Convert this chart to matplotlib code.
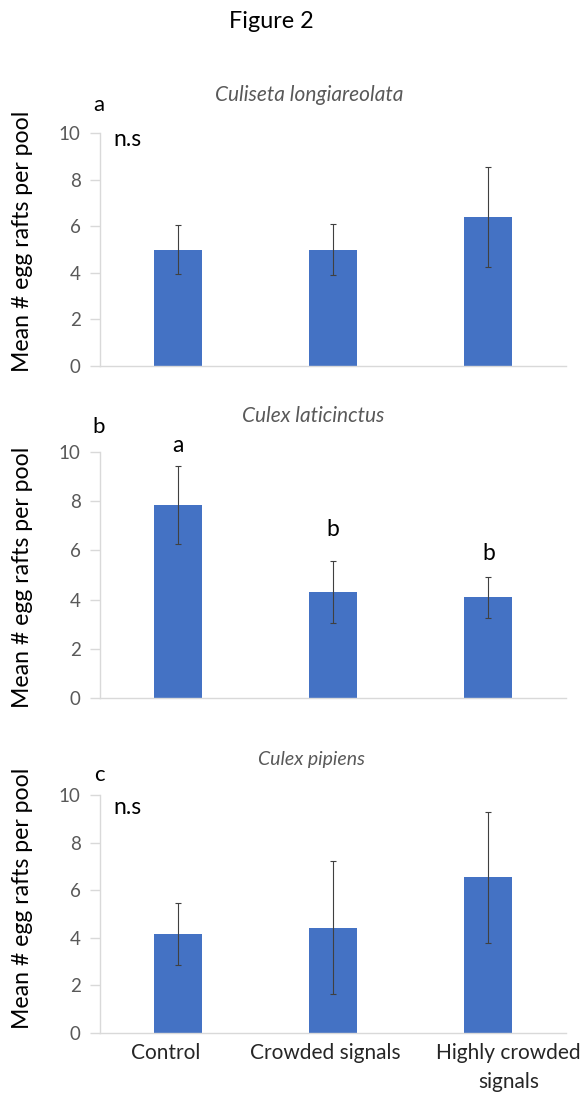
import matplotlib
matplotlib.use("Agg")
import matplotlib.pyplot as plt
import matplotlib.transforms as mtransforms
import numpy as np

plt.rcParams['font.family'] = ['Lato', 'DejaVu Sans']

categories = ["Control", "Crowded signals", "Highly crowded\nsignals"]
species = ["Culiseta longiareolata", "Culex laticinctus", "Culex pipiens"]
panel_labels = ["a", "b", "c"]

means_a = [5.0, 5.0, 6.4]
err_a = [1.07, 1.08, 2.15]
means_b = [7.85, 4.29, 4.1]
err_b = [1.6, 1.26, 0.83]
means_c = [4.16, 4.43, 6.55]
err_c = [1.32, 2.79, 2.75]
sig_letters_b = ["a", "b", "b"]
yticks = [0, 2, 4, 6, 8, 10]

W, H = 586, 1095
fig = plt.figure(figsize=(W / 100, H / 100), dpi=100)

def fx(px):
    return px / W

def fy(py):
    return 1 - py / H

# axes pixel boxes: (left, right, y of value 0, y of value 10)
boxes = [(100, 566, 366, 133), (100, 566, 698, 452), (100, 566, 1033, 795)]
title_xy = [(309, 95), (313, 416), (311, 760)]
title_size = [15, 15, 14]
label_y = [105, 427, 775]
ns_y = [139, None, 808]
ylabel_pos = [0.535, 0.49, 0.567]
letter_offsets_px = [20, 32, 23]
xlabel_shift_px = [-12, -8, 20]

all_means = [means_a, means_b, means_c]
all_err = [err_a, err_b, err_c]

bar_color = "#4472C4"
spine_color = "#D9D9D9"
tick_color = "#595959"

x = np.arange(len(categories))
for i, (l, r, y0, y10) in enumerate(boxes):
    ax = fig.add_axes([fx(l), fy(y0), fx(r) - fx(l), fy(y10) - fy(y0)])
    ax.bar(x, all_means[i], width=0.31, color=bar_color, zorder=2)
    ax.errorbar(x, all_means[i], yerr=all_err[i], fmt="none", ecolor="#404040",
                elinewidth=0.8, capsize=2.5, capthick=0.8, zorder=3)
    ax.set_xlim(-0.5, 2.5)
    ax.set_ylim(0, 10)
    ax.set_yticks(yticks)
    ax.tick_params(axis="y", colors=spine_color, labelcolor=tick_color,
                   labelsize=13.5, length=7, width=1, pad=7)
    for s in ["top", "right"]:
        ax.spines[s].set_visible(False)
    for s in ["left", "bottom"]:
        ax.spines[s].set_color(spine_color)
        ax.spines[s].set_linewidth(1)
    ax.set_ylabel("Mean # egg rafts per pool", fontsize=16.6, color="black")
    ax.yaxis.set_label_coords((33 - l) / (r - l), ylabel_pos[i])
    if i == 2:
        ax.set_xticks(x)
        ax.set_xticklabels(categories, fontsize=15, color="#262626", linespacing=1.55)
        ax.tick_params(axis="x", length=0, pad=7)
        for lab, dx in zip(ax.get_xticklabels(), xlabel_shift_px):
            lab.set_transform(lab.get_transform() +
                              mtransforms.Affine2D().translate(dx, 0))
    else:
        ax.set_xticks([])
    fig.text(fx(title_xy[i][0]), fy(title_xy[i][1]), species[i], fontsize=title_size[i],
             style="italic", color="#595959", ha="center", va="center")
    fig.text(fx(99), fy(label_y[i]), panel_labels[i], fontsize=16,
             color="black", ha="center", va="center")
    if ns_y[i] is not None:
        fig.text(fx(113), fy(ns_y[i]), "n.s", fontsize=16.5, color="black",
                 ha="left", va="center")
    if i == 1:
        tops = np.array(all_means[i]) + np.array(all_err[i])
        for xi, t, lab, off in zip(x, tops, sig_letters_b, letter_offsets_px):
            ax.annotate(lab, (xi, t), xytext=(0, off * 0.72), textcoords="offset points",
                        ha="center", va="center", fontsize=16.5, color="black")

fig.text(fx(271), fy(22), "Figure 2", fontsize=16.8, color="black",
         ha="center", va="center")

fig.savefig("out.png", dpi=100, facecolor="white")
